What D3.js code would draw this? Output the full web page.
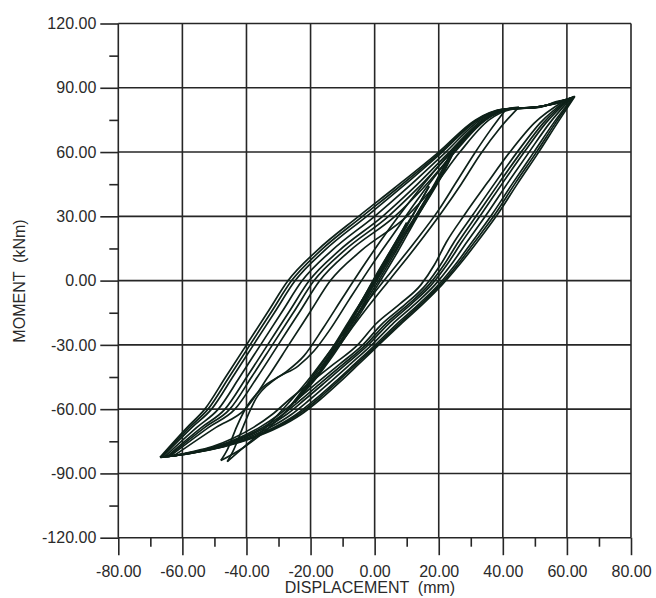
<!DOCTYPE html>
<html><head><meta charset="utf-8">
<script src="https://cdn.jsdelivr.net/npm/d3@7/dist/d3.min.js"></script>
<style>
html,body{margin:0;padding:0;background:#fff;}
svg{display:block;}
text{font-family:"Liberation Sans",Arial,sans-serif;fill:#2a2a2a;}
</style>
</head><body>
<svg id="c" width="656" height="598"></svg>
<script>
// ---- axis ticks ----
const xMajor = [-80,-60,-40,-20,0,20,40,60,80];
const xMinor = [-70,-50,-30,-10,10,30,50,70];
const yMajor = [-120,-90,-60,-30,0,30,60,90,120];
const yMinor = [-105,-75,-45,-15,15,45,75,105];
const xTitle = "DISPLACEMENT  (mm)";
const yTitle = "MOMENT  (kNm)";

// ---- hysteresis branches [displacement mm, moment kNm], each ordered by displacement ----
// small (elastic) cycles
const e1Up   = [[-10,-26],[-5,-12],[0,1],[5,14],[10,27]];
const e1Down = [[-10,-26],[-5,-13],[0,0],[5,13],[10,27]];
const e2Up   = [[-17,-42],[-11,-27],[-5,-12],[1,4],[7,19],[12,31],[17,44]];
const e2Down = [[-17,-42],[-12,-31],[-7,-20],[-1,-4],[5,12],[11,28],[17,44]];
const e3aUp   = [[-26,-58],[-20,-46],[-13,-31],[-6,-14],[0,0],[7,17],[14,33],[20,48],[24,60]];
const e3aDown = [[-26,-58],[-20,-48],[-14,-36],[-7,-20],[0,-3],[6,12],[12,28],[19,46],[24,60]];
const e3bUp   = [[-25,-57],[-19,-45],[-12,-30],[-5,-13],[1,1],[8,18],[15,34],[21,49],[25,61]];
const e3bDown = [[-25,-57],[-19,-47],[-13,-35],[-6,-19],[1,-2],[7,13],[13,29],[20,47],[25,61]];
// medium cycles
const m1Up   = [[-46,-84.5],[-44,-79],[-41,-68],[-37,-55],[-31,-46],[-24,-40],[-19,-33],[-14,-23],[-8,-9],[-1,7],[6,22],[13,37],[20,51],[27,64],[33,73],[37,77.5],[41,80]];
const m1Down = [[-46,-84.5],[-41,-78],[-35,-70],[-28,-59],[-20,-45],[-12,-29],[-4,-13],[4,2],[12,17],[20,33],[25.5,46],[31,59],[36,70],[41,80]];
const m2Up   = [[-48,-84],[-46,-79],[-43,-68],[-40,-59],[-35,-50],[-28,-43],[-22,-35],[-16,-22],[-10,-8],[-3,8],[4,23],[11,37],[18,50],[25,62],[31,71],[37,77.5],[41,80],[45,81]];
const m2Down = [[-48,-84],[-41,-78],[-34,-70],[-27,-60],[-19,-46],[-11,-30],[-3,-14],[5,1],[13,16],[21,32],[27,45],[33,59],[39,71],[45,81]];
// large cycles: loading (upper) branches
const l1Up = [[-67,-82.5],[-58.5,-68.5],[-53,-60],[-46.5,-45],[-40,-30],[-33.5,-15],[-27,0],[-18,14],[-5,30],[6,43],[20,60],[31.5,75],[40,80],[50,81],[58.5,83.5],[62.5,86]];
const l1bUp = [[-66.7,-82.5],[-57.8,-68.5],[-52,-60],[-45.4,-45],[-38.9,-30],[-32.4,-15],[-25.9,0],[-16.9,14],[-3.8,30],[7,43],[20.6,60],[31.9,75],[40.3,80],[50.2,81],[58.4,83.5],[62.3,85.9]];
const l2Up = [[-66.3,-82.4],[-57,-68.5],[-50.9,-60],[-44.3,-45],[-37.8,-30],[-31.3,-15],[-24.8,0],[-15.7,14],[-2.5,30],[8,43],[21.1,60],[32.2,75],[40.5,80],[50.3,81],[58.2,83.5],[62,85.7]];
const l3Up = [[-65.6,-82.3],[-55.5,-68.5],[-48.8,-60],[-42.1,-45],[-35.6,-30],[-29.1,-15],[-22.6,0],[-13.4,14],[0,30],[10,43],[22.2,60],[32.9,75],[41,80],[50.6,81],[57.9,83.5],[61.5,85.4]];
const l4Up = [[-64.9,-82.2],[-54,-68.5],[-46.7,-60],[-39.9,-45],[-33.4,-30],[-26.9,-15],[-20.4,0],[-11.1,14],[2.5,30],[12,43],[23.3,60],[33.6,75],[41.5,80],[50.9,81],[57.6,83.5],[61,85.1]];
const l4bUp = [[-64.4,-82.1],[-53,-68.5],[-45.2,-60],[-38.4,-45],[-31.9,-30],[-25.4,-15],[-18.9,0],[-9.5,14],[4.3,30],[13.4,43],[24.1,60],[34.1,75],[41.9,80],[51.1,81],[57.4,83.5],[60.7,84.9]];
const l5Up = [[-63.9,-82],[-51.8,-68.5],[-43.6,-60],[-36.6,-45],[-30.1,-30],[-23.6,-15],[-17.1,0],[-7.7,14],[6.3,30],[15,43],[25,60],[34.7,75],[42.3,80],[51.4,81],[57.2,83.5],[60.3,84.7]];
const l6Up = [[-62.8,-81.9],[-49.5,-68.5],[-40.4,-60],[-33.3,-45],[-26.8,-30],[-20.3,-15],[-13.8,0],[-4.2,14],[10,30],[18,43],[26.6,60],[35.7,75],[43,80],[51.8,81],[56.7,83.5],[59.5,84.2]];
// large cycles: unloading (lower) branches
const l1Down = [[-67,-82.5],[-57,-80.5],[-47,-77.5],[-38,-73.5],[-30,-68.5],[-23,-62.5],[-17,-55.5],[-11,-47.5],[-5,-39],[1.3,-30],[8,-20.5],[15,-11],[21,-2],[26.5,7.5],[32,18],[38.2,30.6],[44.7,45.5],[51.3,60.2],[57,73.5],[62.5,86]];
const l1bDown = [[-66.7,-82.5],[-57.2,-80.5],[-47.3,-77.5],[-38.5,-73.5],[-30.7,-68.5],[-23.8,-62.5],[-17.8,-55.5],[-11.8,-47.5],[-5.7,-39],[0.8,-30],[7.4,-20.5],[14.4,-11],[20.5,-2],[25.9,7.5],[31.2,18],[37.4,30.6],[43.9,45.5],[50.6,60.2],[56.4,73.5],[62.3,85.9]];
const l2Down = [[-66.3,-82.4],[-57.3,-80.5],[-47.6,-77.5],[-39,-73.5],[-31.3,-68.5],[-24.5,-62.5],[-18.6,-55.5],[-12.5,-47.5],[-6.3,-39],[0.2,-30],[6.7,-20.5],[13.8,-11],[19.9,-2],[25.2,7.5],[30.4,18],[36.5,30.6],[43.1,45.5],[49.8,60.2],[55.8,73.5],[62,85.7]];
const l3Down = [[-65.6,-82.3],[-57.6,-80.5],[-48.2,-77.5],[-40,-73.5],[-32.6,-68.5],[-26,-62.5],[-20.2,-55.5],[-14,-47.5],[-7.6,-39],[-0.9,-30],[5.4,-20.5],[12.6,-11],[18.8,-2],[23.9,7.5],[28.8,18],[34.8,30.6],[41.5,45.5],[48.3,60.2],[54.6,73.5],[61.5,85.4]];
const l4Down = [[-64.9,-82.2],[-57.9,-80.5],[-48.8,-77.5],[-41,-73.5],[-33.9,-68.5],[-27.5,-62.5],[-21.8,-55.5],[-15.5,-47.5],[-8.9,-39],[-2,-30],[4.1,-20.5],[11.4,-11],[17.7,-2],[22.6,7.5],[27.2,18],[33.1,30.6],[39.9,45.5],[46.8,60.2],[53.4,73.5],[61,85.1]];
const l4bDown = [[-64.4,-82.1],[-58.1,-80.5],[-49.2,-77.5],[-41.7,-73.5],[-34.8,-68.5],[-28.6,-62.5],[-22.9,-55.5],[-16.6,-47.5],[-9.8,-39],[-2.8,-30],[3.2,-20.5],[10.6,-11],[16.9,-2],[21.7,7.5],[26.1,18],[31.9,30.6],[38.8,45.5],[45.8,60.2],[52.6,73.5],[60.7,84.9]];
const l5Down = [[-63.9,-82],[-58.4,-80.5],[-49.7,-77.5],[-42.5,-73.5],[-35.9,-68.5],[-29.8,-62.5],[-24.2,-55.5],[-17.8,-47.5],[-10.9,-39],[-3.7,-30],[2.1,-20.5],[9.6,-11],[16,-2],[20.6,7.5],[24.8,18],[30.6,30.6],[37.5,45.5],[44.6,60.2],[51.6,73.5],[60.3,84.7]];
const l6Down = [[-62.8,-81.9],[-58.8,-80.5],[-50.6,-77.5],[-44,-73.5],[-37.8,-68.5],[-32,-62.5],[-26.6,-55.5],[-20,-47.5],[-12.8,-39],[-5.3,-30],[0.2,-20.5],[7.8,-11],[14.4,-2],[18.7,7.5],[22.4,18],[28,30.6],[35.1,45.5],[42.3,60.2],[49.8,73.5],[59.5,84.2]];

const branches = [e1Up,e1Down,e2Up,e2Down,e3aUp,e3aDown,e3bUp,e3bDown,
  m1Up,m1Down,m2Up,m2Down,
  l1Up,l1bUp,l2Up,l3Up,l4Up,l4bUp,l5Up,l6Up,
  l1Down,l1bDown,l2Down,l3Down,l4Down,l4bDown,l5Down,l6Down];

// ---- layout ----
const svg = d3.select("#c");
const x = d3.scaleLinear().domain([-80,80]).range([118.3,631]);
const y = d3.scaleLinear().domain([-120,120]).range([537.7,23.5]);
const ink = "#262626";

// grid
svg.append("g").selectAll("line").data(xMajor).join("line")
  .attr("x1",d=>x(d)).attr("x2",d=>x(d)).attr("y1",y(-120)).attr("y2",y(120))
  .attr("stroke",ink).attr("stroke-width",1.6);
svg.append("g").selectAll("line").data(yMajor).join("line")
  .attr("y1",d=>y(d)).attr("y2",d=>y(d)).attr("x1",x(-80)).attr("x2",x(80))
  .attr("stroke",ink).attr("stroke-width",1.6);

const fmt = d => d.toFixed(2);
const gy = svg.append("g").attr("transform",`translate(${x(-80)},0)`)
  .call(d3.axisLeft(y).tickValues(yMajor).tickSize(18).tickPadding(4).tickFormat(fmt));
const gy2 = svg.append("g").attr("transform",`translate(${x(-80)},0)`)
  .call(d3.axisLeft(y).tickValues(yMinor).tickSize(9).tickFormat(""));
const gx = svg.append("g").attr("transform",`translate(0,${y(-120)})`)
  .call(d3.axisBottom(x).tickValues(xMajor).tickSize(17.5).tickPadding(10).tickFormat(fmt));
const gx2 = svg.append("g").attr("transform",`translate(0,${y(-120)})`)
  .call(d3.axisBottom(x).tickValues(xMinor).tickSize(9).tickFormat(""));
[gy,gy2,gx,gx2].forEach(g=>{
  g.select(".domain").remove();
  g.selectAll(".tick line").attr("stroke",ink).attr("stroke-width",1.6);
  g.selectAll("text").attr("font-size",16).attr("fill","#2a2a2a")
   .attr("font-family","'Liberation Sans',Arial,sans-serif");
});

svg.append("text").attr("x",370).attr("y",593).attr("text-anchor","middle")
  .attr("font-size",16).style("white-space","pre").text(xTitle);
svg.append("text").attr("transform","translate(25,281) rotate(-90)").attr("text-anchor","middle")
  .attr("font-size",16).style("white-space","pre").text(yTitle);

// loops
const line = d3.line().x(d=>x(d[0])).y(d=>y(d[1])).curve(d3.curveMonotoneX);
svg.append("g").selectAll("path").data(branches).join("path")
  .attr("d",line).attr("fill","none").attr("stroke","#0e2119").attr("stroke-width",1.7)
  .attr("stroke-linejoin","round");
</script>
</body></html>
